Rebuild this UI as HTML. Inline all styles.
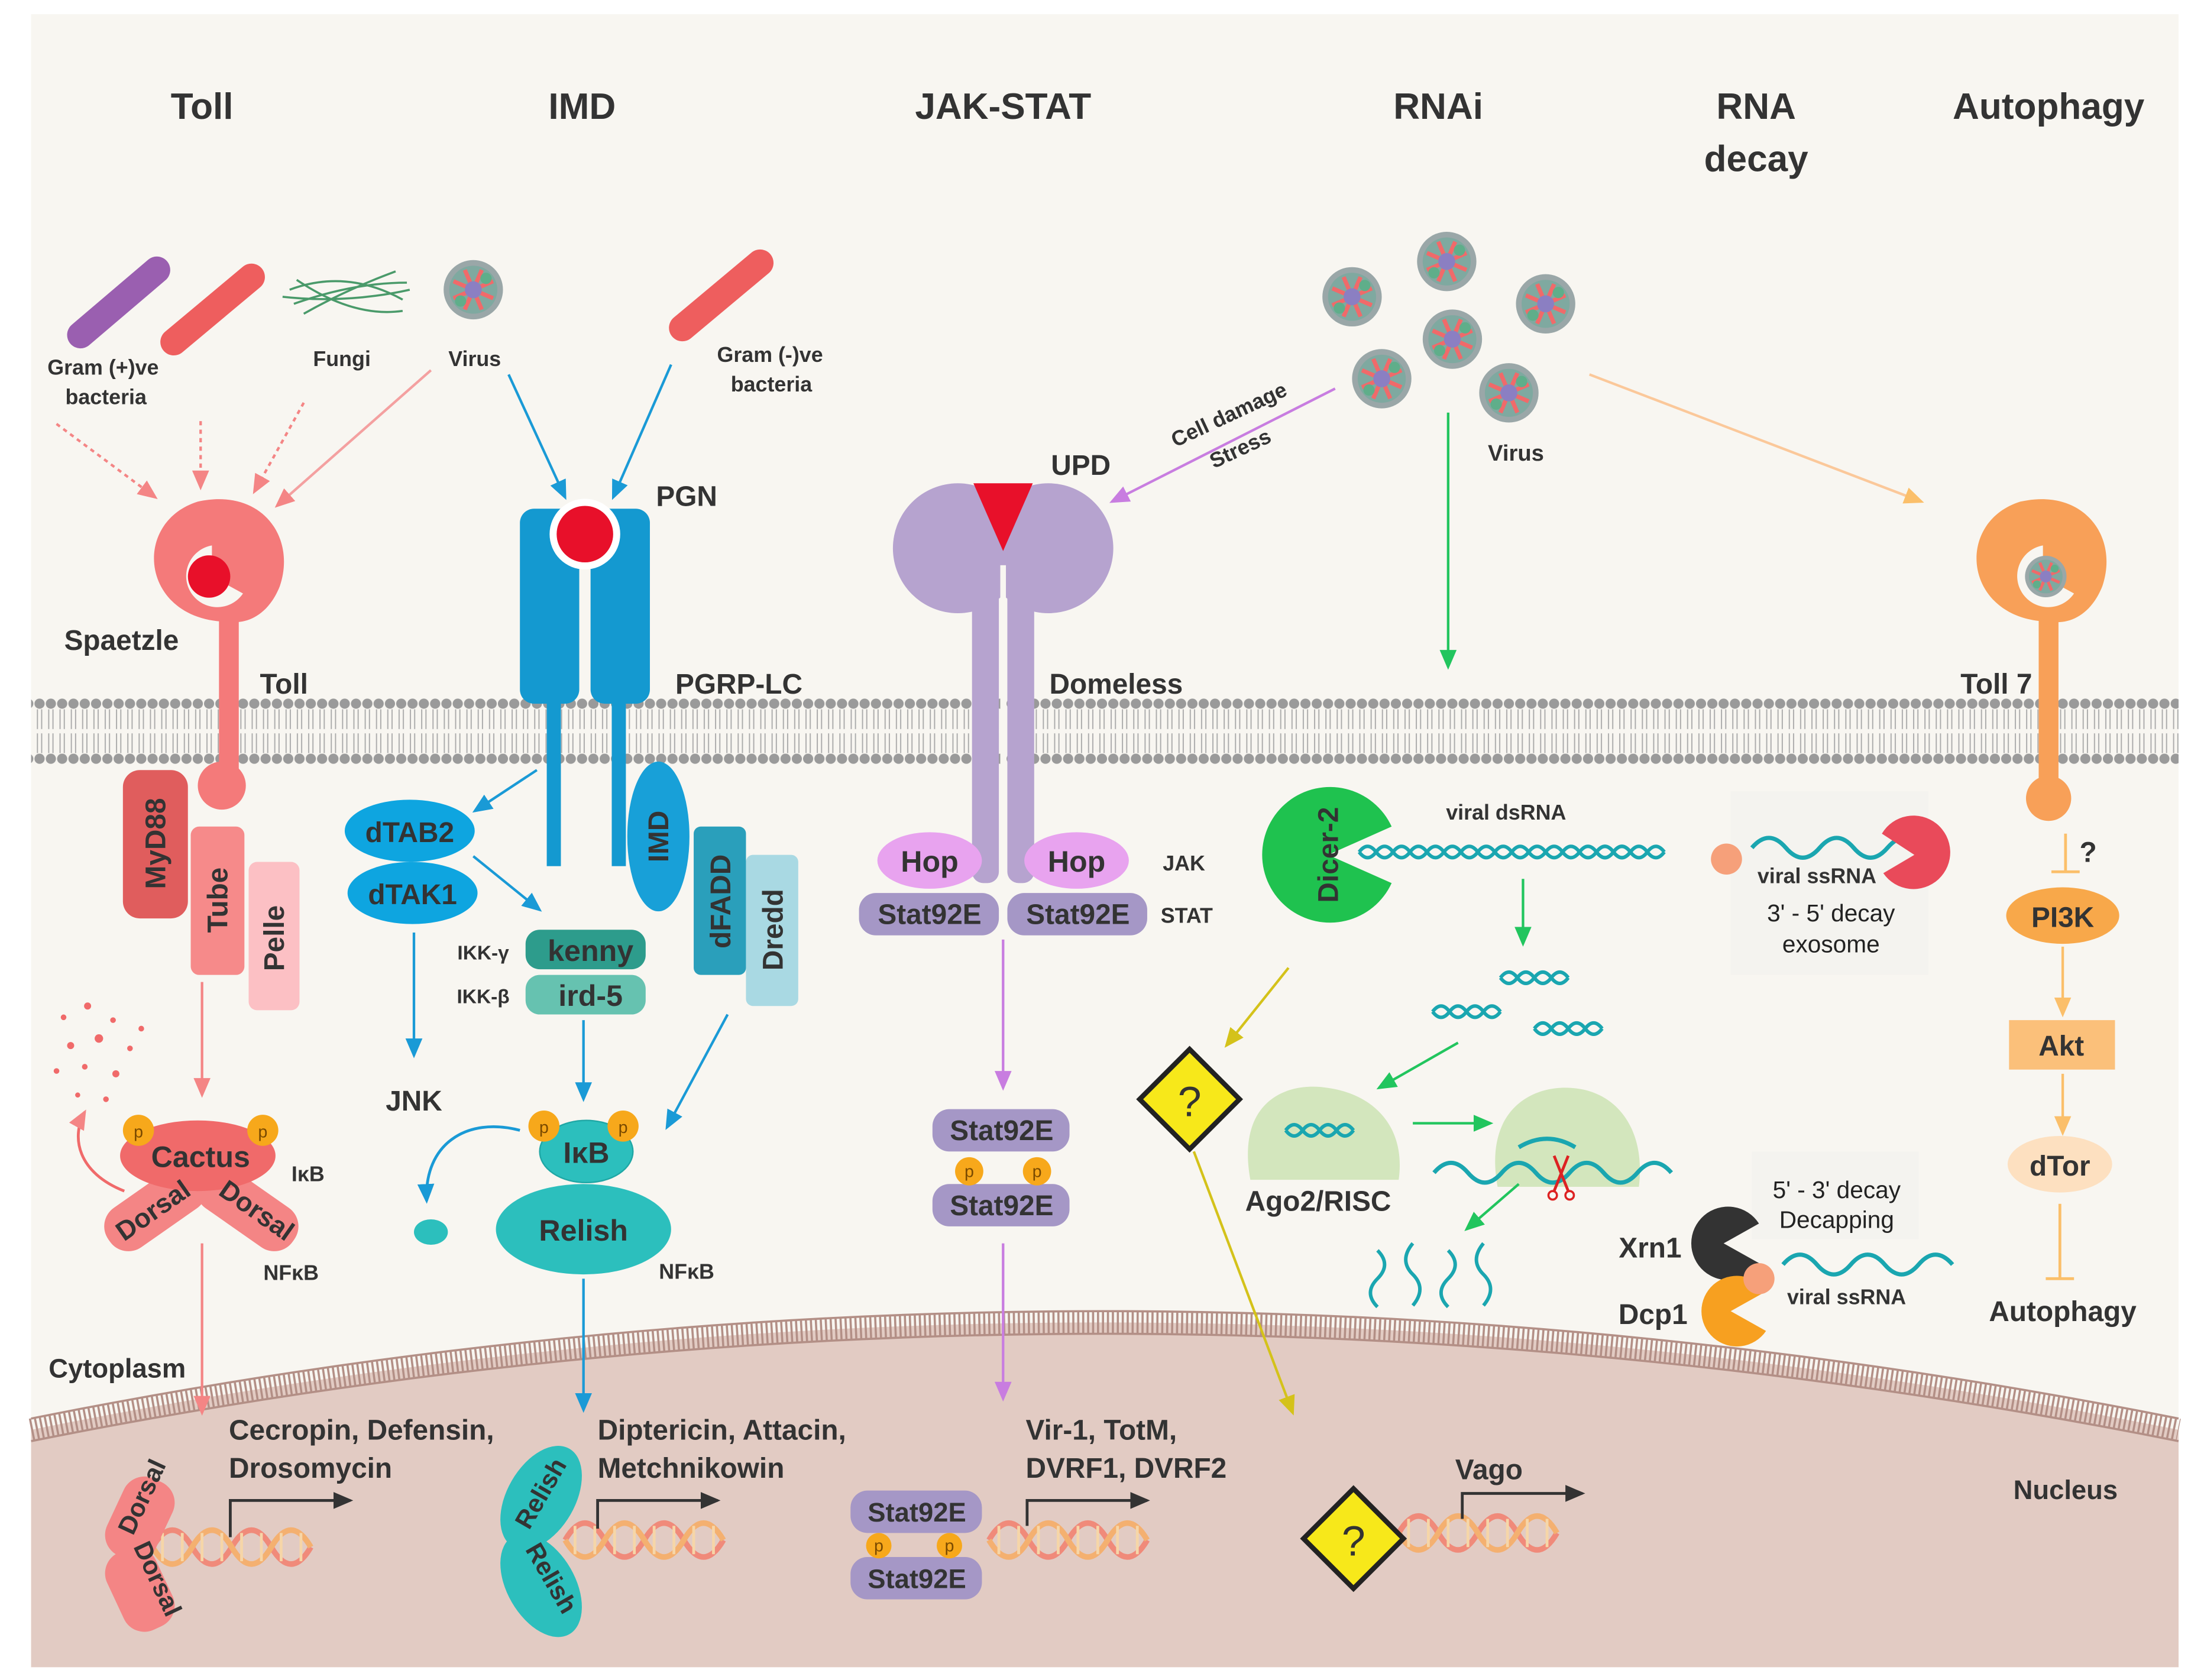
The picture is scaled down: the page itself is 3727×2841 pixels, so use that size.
<!DOCTYPE html>
<html><head><meta charset="utf-8"><style>
html,body{margin:0;padding:0;background:#fff}
svg{display:block}
text{font-family:"Liberation Sans",sans-serif;font-weight:bold;fill:#333}
.pp{font-size:12px;font-weight:normal;fill:#7a4a00}
</style></head><body>
<svg width="3727" height="2841" viewBox="0 0 1560 1189" xmlns="http://www.w3.org/2000/svg">
<defs>
<marker id="ap" markerWidth="14" markerHeight="12" refX="12" refY="6" orient="auto" markerUnits="userSpaceOnUse"><path d="M0,0 L14,6 L0,12Z" fill="#f48585"/></marker>
<marker id="abl" markerWidth="14" markerHeight="12" refX="12" refY="6" orient="auto" markerUnits="userSpaceOnUse"><path d="M0,0 L14,6 L0,12Z" fill="#1a9ad6"/></marker>
<marker id="apu" markerWidth="14" markerHeight="12" refX="12" refY="6" orient="auto" markerUnits="userSpaceOnUse"><path d="M0,0 L14,6 L0,12Z" fill="#c87de0"/></marker>
<marker id="ag" markerWidth="14" markerHeight="12" refX="12" refY="6" orient="auto" markerUnits="userSpaceOnUse"><path d="M0,0 L14,6 L0,12Z" fill="#22c55e"/></marker>
<marker id="ay" markerWidth="14" markerHeight="12" refX="12" refY="6" orient="auto" markerUnits="userSpaceOnUse"><path d="M0,0 L14,6 L0,12Z" fill="#d4c21a"/></marker>
<marker id="ao" markerWidth="14" markerHeight="12" refX="12" refY="6" orient="auto" markerUnits="userSpaceOnUse"><path d="M0,0 L14,6 L0,12Z" fill="#fbbf6a"/></marker>
<marker id="ak" markerWidth="14" markerHeight="12" refX="12" refY="6" orient="auto" markerUnits="userSpaceOnUse"><path d="M0,0 L14,6 L0,12Z" fill="#333"/></marker>
<pattern id="mem" x="0" y="494" width="8" height="48" patternUnits="userSpaceOnUse">
<circle cx="4" cy="4" r="3.6" fill="#9a9a9a"/><circle cx="4" cy="43" r="3.6" fill="#9a9a9a"/>
<line x1="2.5" y1="8" x2="2.5" y2="22" stroke="#aaa" stroke-width=".8"/><line x1="5.5" y1="8" x2="5.5" y2="22" stroke="#aaa" stroke-width=".8"/>
<line x1="2.5" y1="25" x2="2.5" y2="39" stroke="#aaa" stroke-width=".8"/><line x1="5.5" y1="25" x2="5.5" y2="39" stroke="#aaa" stroke-width=".8"/>
</pattern>
<g id="virus"><circle r="21" fill="#9aa7a8"/><circle r="17" fill="#7fa9a0"/><path d="M-14,-6 L14,6 M-6,-14 L6,14 M-14,6 L14,-6 M6,-14 L-6,14" stroke="#f06a6a" stroke-width="3"/><circle r="6" fill="#8b7fc2"/><circle cx="-9" cy="8" r="4" fill="#5fae8a"/><circle cx="9" cy="-8" r="4" fill="#5fae8a"/></g>
<g id="dna"><path d="M0,0 q14,-24 28,0 t28,0 t28,0 t28,0" fill="none" stroke="#f08a7a" stroke-width="4"/><path d="M0,0 q14,24 28,0 t28,0 t28,0 t28,0" fill="none" stroke="#f4b070" stroke-width="4"/><path d="M7,-10v20M21,-10v20M35,-10v20M49,-10v20M63,-10v20M77,-10v20M91,-10v20M105,-10v20" stroke="#f6d6a8" stroke-width="2"/></g>
<g id="helix"><path d="M0,0 q6,-8 12,0 t12,0 t12,0 t12,0" fill="none" stroke="#1aa6b0" stroke-width="2.5"/><path d="M0,0 q6,8 12,0 t12,0 t12,0 t12,0" fill="none" stroke="#1aa6b0" stroke-width="2.5"/></g>
</defs>
<rect x="0" y="0" width="1560" height="1189" fill="#fff"/>
<rect x="22" y="10" width="1520" height="1170" fill="#f8f6f1"/>
<path d="M22 1012 Q780 860 1542 1012 L1542 1180 L22 1180Z" fill="#e2cbc3"/>
<path d="M22 1012 Q780 860 1542 1012" fill="none" stroke="#b38f86" stroke-width="16" stroke-dasharray="1.5 2"/>
<path d="M22 1004 Q780 852 1542 1004" fill="none" stroke="#b38f86" stroke-width="1.5"/>
<path d="M22 1020 Q780 868 1542 1020" fill="none" stroke="#b38f86" stroke-width="1.5"/>
<rect x="22" y="494" width="1520" height="48" fill="url(#mem)"/>
<g font-size="26" text-anchor="middle">
<text x="143" y="84">Toll</text><text x="412" y="84">IMD</text><text x="710" y="84">JAK-STAT</text><text x="1018" y="84">RNAi</text><text x="1243" y="84">RNA</text><text x="1243" y="121">decay</text><text x="1450" y="84">Autophagy</text>
</g>
<line x1="57" y1="237" x2="111" y2="191" stroke="#9a5fb0" stroke-width="19" stroke-linecap="round"/>
<line x1="123" y1="242" x2="178" y2="196" stroke="#ee5e5e" stroke-width="19" stroke-linecap="round"/>
<line x1="483" y1="232" x2="538" y2="186" stroke="#ee5e5e" stroke-width="19" stroke-linecap="round"/>
<g stroke="#4a9a6a" stroke-width="1.5" fill="none"><path d="M205 205 Q245 190 285 212"/><path d="M208 215 Q250 200 288 200"/><path d="M210 198 Q250 225 285 220"/><path d="M215 222 Q245 205 280 192"/><path d="M200 210 Q245 215 290 205"/></g>
<use href="#virus" x="335" y="205"/>
<g font-size="15" text-anchor="middle">
<text x="73" y="265">Gram (+)ve</text><text x="75" y="286">bacteria</text><text x="242" y="259">Fungi</text><text x="336" y="259">Virus</text><text x="545" y="256">Gram (-)ve</text><text x="546" y="277">bacteria</text>
</g>
<g stroke="#f48585" stroke-width="1.8" stroke-dasharray="3 3" marker-end="url(#ap)"><line x1="40" y1="300" x2="110" y2="352"/><line x1="142" y1="298" x2="142" y2="345"/><line x1="215" y1="285" x2="180" y2="348"/></g>
<line x1="305" y1="262" x2="196" y2="358" stroke="#f4a0a0" stroke-width="1.8" marker-end="url(#ap)"/>
<line x1="360" y1="265" x2="400" y2="352" stroke="#1a9ad6" stroke-width="1.8" marker-end="url(#abl)"/>
<line x1="475" y1="258" x2="434" y2="352" stroke="#1a9ad6" stroke-width="1.8" marker-end="url(#abl)"/>
<!-- Toll receptor -->
<rect x="155" y="430" width="14" height="135" fill="#f47a7a"/>
<path d="M162 440 C100 440 92 370 140 355 C185 345 210 380 198 415 C190 435 175 442 162 440Z" fill="#f47a7a"/>
<path d="M150 386 A22 22 0 1 0 172 420 L150 408Z" fill="#f8f6f1"/>
<circle cx="148" cy="408" r="15" fill="#e8102a"/>
<circle cx="157" cy="556" r="17" fill="#f47a7a"/>
<text x="86" y="460" font-size="20" text-anchor="middle">Spaetzle</text>
<text x="201" y="491" font-size="20" text-anchor="middle">Toll</text>
<rect x="87" y="545" width="46" height="105" rx="12" fill="#e05d5d"/>
<rect x="135" y="585" width="38" height="105" rx="6" fill="#f68a8a"/>
<rect x="176" y="610" width="36" height="105" rx="6" fill="#fcc0c4"/>
<g font-size="20"><text transform="translate(117,597) rotate(-90)" text-anchor="middle">MyD88</text><text transform="translate(161,637) rotate(-90)" text-anchor="middle">Tube</text><text transform="translate(201,664) rotate(-90)" text-anchor="middle">Pelle</text></g>
<line x1="143" y1="695" x2="143" y2="775" stroke="#f48585" stroke-width="1.8" marker-end="url(#ap)"/>
<g fill="#f06a6a"><circle cx="45" cy="720" r="2"/><circle cx="62" cy="712" r="2.5"/><circle cx="80" cy="722" r="2"/><circle cx="50" cy="740" r="2.5"/><circle cx="70" cy="735" r="3"/><circle cx="92" cy="742" r="2"/><circle cx="40" cy="758" r="2"/><circle cx="60" cy="755" r="2"/><circle cx="82" cy="760" r="2.5"/><circle cx="100" cy="728" r="2"/><circle cx="55" cy="775" r="1.8"/><circle cx="75" cy="778" r="2"/></g>
<path d="M88 843 C55 830 50 805 60 787" fill="none" stroke="#f06a6a" stroke-width="2" marker-end="url(#ap)"/>
<rect x="70" y="838" width="80" height="34" rx="16" fill="#f48585" transform="rotate(-35 110 855)"/>
<rect x="135" y="838" width="80" height="34" rx="16" fill="#f48585" transform="rotate(35 175 855)"/>
<ellipse cx="140" cy="818" rx="55" ry="25" fill="#f06a6a"/>
<text x="142" y="826" font-size="21" text-anchor="middle">Cactus</text>
<text transform="translate(112,862) rotate(-35)" font-size="19" text-anchor="middle">Dorsal</text>
<text transform="translate(178,862) rotate(35)" font-size="19" text-anchor="middle">Dorsal</text>
<circle cx="98" cy="800" r="11" fill="#f7a81b"/><circle cx="186" cy="800" r="11" fill="#f7a81b"/>
<text x="98" y="805" class="pp" text-anchor="middle">p</text><text x="186" y="805" class="pp" text-anchor="middle">p</text>
<text x="218" y="836" font-size="15" text-anchor="middle">IκB</text><text x="206" y="906" font-size="15" text-anchor="middle">NFκB</text>
<line x1="143" y1="880" x2="143" y2="1000" stroke="#f48585" stroke-width="1.8" marker-end="url(#ap)"/>
<text x="83" y="975" font-size="19" text-anchor="middle">Cytoplasm</text>
<!-- PGRP-LC -->
<rect x="368" y="360" width="42" height="138" rx="10" fill="#1499d0"/>
<rect x="418" y="360" width="42" height="138" rx="10" fill="#1499d0"/>
<rect x="387" y="498" width="10" height="115" fill="#1499d0"/><rect x="433" y="498" width="10" height="115" fill="#1499d0"/>
<circle cx="414" cy="378" r="25" fill="#fff"/><circle cx="414" cy="378" r="20" fill="#e8102a"/>
<text x="486" y="358" font-size="20" text-anchor="middle">PGN</text>
<text x="523" y="491" font-size="20" text-anchor="middle">PGRP-LC</text>
<ellipse cx="466" cy="592" rx="22" ry="53" fill="#18a0d8"/>
<rect x="491" y="585" width="37" height="105" rx="5" fill="#2a9fbb"/>
<rect x="528" y="605" width="37" height="107" rx="5" fill="#a9d9e3"/>
<g font-size="20"><text transform="translate(473,592) rotate(-90)" text-anchor="middle">IMD</text><text transform="translate(517,638) rotate(-90)" text-anchor="middle">dFADD</text><text transform="translate(554,658) rotate(-90)" text-anchor="middle">Dredd</text></g>
<line x1="380" y1="545" x2="336" y2="574" stroke="#1a9ad6" stroke-width="1.8" marker-end="url(#abl)"/>
<ellipse cx="290" cy="588" rx="46" ry="22" fill="#0ea5e0"/><ellipse cx="292" cy="632" rx="46" ry="22" fill="#0ea5e0"/>
<text x="290" y="596" font-size="20" text-anchor="middle">dTAB2</text><text x="292" y="640" font-size="20" text-anchor="middle">dTAK1</text>
<line x1="335" y1="606" x2="382" y2="644" stroke="#1a9ad6" stroke-width="1.8" marker-end="url(#abl)"/>
<rect x="372" y="658" width="85" height="28" rx="10" fill="#2d9c8c"/><rect x="372" y="690" width="85" height="28" rx="10" fill="#66c2b0"/>
<text x="418" y="680" font-size="21" text-anchor="middle">kenny</text><text x="418" y="712" font-size="21" text-anchor="middle">ird-5</text>
<text x="342" y="679" font-size="14" text-anchor="middle">IKK-γ</text><text x="342" y="710" font-size="14" text-anchor="middle">IKK-β</text>
<line x1="293" y1="660" x2="293" y2="747" stroke="#1a9ad6" stroke-width="1.8" marker-end="url(#abl)"/>
<text x="293" y="786" font-size="20" text-anchor="middle">JNK</text>
<line x1="413" y1="722" x2="413" y2="778" stroke="#1a9ad6" stroke-width="1.8" marker-end="url(#abl)"/>
<line x1="515" y1="718" x2="472" y2="798" stroke="#1a9ad6" stroke-width="1.8" marker-end="url(#abl)"/>
<ellipse cx="413" cy="870" rx="62" ry="32" fill="#2cbfbd"/><ellipse cx="415" cy="815" rx="33" ry="22" fill="#2cbfbd" stroke="#1fa7a5"/>
<text x="413" y="878" font-size="21" text-anchor="middle">Relish</text><text x="415" y="823" font-size="21" text-anchor="middle">IκB</text>
<circle cx="385" cy="797" r="11" fill="#f7a81b"/><circle cx="441" cy="797" r="11" fill="#f7a81b"/>
<text x="385" y="802" class="pp" text-anchor="middle">p</text><text x="441" y="802" class="pp" text-anchor="middle">p</text>
<path d="M368 800 C330 790 300 810 302 850" fill="none" stroke="#1a9ad6" stroke-width="2" marker-end="url(#abl)"/>
<ellipse cx="305" cy="872" rx="12" ry="9" fill="#2cbfbd"/>
<text x="486" y="905" font-size="15" text-anchor="middle">NFκB</text>
<line x1="413" y1="905" x2="413" y2="998" stroke="#1a9ad6" stroke-width="1.8" marker-end="url(#abl)"/>
<!-- JAK-STAT -->
<circle cx="678" cy="388" r="46" fill="#b6a3cf"/><circle cx="742" cy="388" r="46" fill="#b6a3cf"/>
<rect x="688" y="380" width="19" height="245" rx="8" fill="#b6a3cf"/><rect x="713" y="380" width="19" height="245" rx="8" fill="#b6a3cf"/>
<rect x="708" y="400" width="4" height="225" fill="#f8f6f1"/>
<path d="M689 342 L731 342 L710 390Z" fill="#e8102a"/>
<text x="765" y="336" font-size="20" text-anchor="middle">UPD</text>
<text x="790" y="491" font-size="20" text-anchor="middle">Domeless</text>
<text transform="translate(872,298) rotate(-25)" font-size="15" text-anchor="middle">Cell damage</text>
<text transform="translate(880,322) rotate(-25)" font-size="15" text-anchor="middle">Stress</text>
<line x1="945" y1="275" x2="787" y2="355" stroke="#c87de0" stroke-width="1.8" marker-end="url(#apu)"/>
<ellipse cx="658" cy="609" rx="37" ry="20" fill="#e8a3ef"/><ellipse cx="762" cy="609" rx="37" ry="20" fill="#e8a3ef"/>
<text x="658" y="617" font-size="21" text-anchor="middle">Hop</text><text x="762" y="617" font-size="21" text-anchor="middle">Hop</text>
<rect x="608" y="632" width="99" height="30" rx="12" fill="#a597c6"/><rect x="713" y="632" width="99" height="30" rx="12" fill="#a597c6"/>
<text x="658" y="654" font-size="20" text-anchor="middle">Stat92E</text><text x="763" y="654" font-size="20" text-anchor="middle">Stat92E</text>
<text x="838" y="616" font-size="15" text-anchor="middle">JAK</text><text x="840" y="653" font-size="15" text-anchor="middle">STAT</text>
<line x1="710" y1="665" x2="710" y2="770" stroke="#c87de0" stroke-width="1.8" marker-end="url(#apu)"/>
<rect x="660" y="785" width="97" height="30" rx="12" fill="#a597c6"/><rect x="660" y="838" width="97" height="30" rx="12" fill="#a597c6"/>
<text x="709" y="807" font-size="20" text-anchor="middle">Stat92E</text><text x="709" y="860" font-size="20" text-anchor="middle">Stat92E</text>
<circle cx="686" cy="829" r="10" fill="#f7a81b"/><circle cx="734" cy="829" r="10" fill="#f7a81b"/>
<text x="686" y="833" class="pp" text-anchor="middle">p</text><text x="734" y="833" class="pp" text-anchor="middle">p</text>
<line x1="710" y1="880" x2="710" y2="990" stroke="#c87de0" stroke-width="1.8" marker-end="url(#apu)"/>
<!-- RNAi -->
<use href="#virus" x="957" y="210"/><use href="#virus" x="1024" y="185"/><use href="#virus" x="1094" y="215"/><use href="#virus" x="1028" y="240"/><use href="#virus" x="978" y="268"/><use href="#virus" x="1068" y="278"/>
<text x="1073" y="326" font-size="16" text-anchor="middle">Virus</text>
<line x1="1025" y1="292" x2="1025" y2="472" stroke="#22c55e" stroke-width="1.8" marker-end="url(#ag)"/>
<line x1="1125" y1="265" x2="1360" y2="355" stroke="#fbc89a" stroke-width="1.8" marker-end="url(#ao)"/>
<path d="M940 605 L985 585 A48 48 0 1 0 985 625 Z" fill="#1fc24f"/>
<text transform="translate(940,605) rotate(-90)" font-size="20" text-anchor="middle" dy="7">Dicer-2</text>
<text x="1066" y="580" font-size="15" text-anchor="middle">viral dsRNA</text>
<use href="#helix" x="962" y="603"/><use href="#helix" x="1010" y="603"/><use href="#helix" x="1058" y="603"/><use href="#helix" x="1106" y="603"/><use href="#helix" x="1130" y="603"/>
<line x1="1078" y1="622" x2="1078" y2="668" stroke="#22c55e" stroke-width="1.8" marker-end="url(#ag)"/>
<use href="#helix" x="1062" y="692"/><use href="#helix" x="1014" y="716"/><use href="#helix" x="1086" y="728"/>
<line x1="1032" y1="738" x2="976" y2="770" stroke="#22c55e" stroke-width="1.8" marker-end="url(#ag)"/>
<path d="M885 835 C875 780 910 765 940 770 C975 775 995 800 990 835Z" fill="#d3e6bd"/>
<use href="#helix" x="910" y="800"/>
<text x="933" y="857" font-size="20" text-anchor="middle">Ago2/RISC</text>
<line x1="1000" y1="795" x2="1055" y2="795" stroke="#22c55e" stroke-width="1.8" marker-end="url(#ag)"/>
<path d="M1060 840 C1050 785 1085 768 1112 770 C1145 772 1165 800 1160 840Z" fill="#d3e6bd"/>
<path d="M1015 830 q12,-14 24,0 t24,0 t24,0 t24,0 t24,0 t24,0 t24,0" fill="none" stroke="#1aa6b0" stroke-width="3"/>
<path d="M1075 812 q20 -12 40 0" fill="none" stroke="#1aa6b0" stroke-width="3"/>
<path d="M1100 818 l10 25 M1110 818 l-10 25" stroke="#d22" stroke-width="2"/><circle cx="1099" cy="846" r="3" fill="none" stroke="#d22" stroke-width="1.5"/><circle cx="1111" cy="846" r="3" fill="none" stroke="#d22" stroke-width="1.5"/>
<line x1="1075" y1="838" x2="1038" y2="870" stroke="#22c55e" stroke-width="1.8" marker-end="url(#ag)"/>
<g fill="none" stroke="#1aa6b0" stroke-width="2.5"><path d="M975 885 q10 10 0 20 t0 20"/><path d="M1000 880 q-10 12 0 22 t0 22"/><path d="M1025 885 q10 10 0 20 t0 20"/><path d="M1050 880 q-10 12 0 22 t0 22"/></g>
<line x1="912" y1="685" x2="868" y2="740" stroke="#d4c21a" stroke-width="1.8" marker-end="url(#ay)"/>
<rect x="817" y="753" width="50" height="50" fill="#f7e81a" stroke="#222" stroke-width="3.5" transform="rotate(45 842 778)"/>
<text x="842" y="790" font-size="30" text-anchor="middle" style="font-weight:normal">?</text>
<line x1="845" y1="815" x2="915" y2="1000" stroke="#d4c21a" stroke-width="1.8" marker-end="url(#ay)"/>
<!-- RNA decay -->
<rect x="1225" y="560" width="140" height="130" fill="#f4f3ef"/>
<path d="M1240 600 q12,-14 24,0 t24,0 t24,0 t24,0 t24,0" fill="none" stroke="#1aa6b0" stroke-width="3"/>
<path d="M1355 605 L1332 590 A26 26 0 1 1 1333 618 Z" fill="#e94a5a"/>
<circle cx="1222" cy="608" r="11" fill="#f6a07a"/>
<text x="1286" y="625" font-size="15" text-anchor="middle">viral ssRNA</text>
<text x="1296" y="652" font-size="17" text-anchor="middle" style="font-weight:normal;fill:#222">3' - 5' decay</text>
<text x="1296" y="674" font-size="17" text-anchor="middle" style="font-weight:normal;fill:#222">exosome</text>
<rect x="1240" y="815" width="118" height="62" fill="#f4f3ef"/>
<text x="1300" y="848" font-size="17" text-anchor="middle" style="font-weight:normal;fill:#222">5' - 3' decay</text>
<text x="1300" y="869" font-size="17" text-anchor="middle" style="font-weight:normal;fill:#222">Decapping</text>
<path d="M1220 880 L1245 866 A26 26 0 1 0 1245 894 Z" fill="#333"/>
<path d="M1225 928 L1250 914 A25 25 0 1 0 1250 942 Z" fill="#f7a020"/>
<circle cx="1245" cy="905" r="11" fill="#f6a07a"/>
<path d="M1262 895 q12,-14 24,0 t24,0 t24,0 t24,0 t24,0" fill="none" stroke="#1aa6b0" stroke-width="3"/>
<text x="1168" y="890" font-size="20" text-anchor="middle">Xrn1</text><text x="1170" y="937" font-size="20" text-anchor="middle">Dcp1</text>
<text x="1307" y="923" font-size="15" text-anchor="middle">viral ssRNA</text>
<!-- Autophagy -->
<rect x="1443" y="430" width="14" height="140" fill="#f8a058"/>
<path d="M1452 440 C1390 440 1382 370 1430 355 C1475 345 1500 380 1488 415 C1480 435 1465 442 1452 440Z" fill="#f8a058"/>
<path d="M1446 386 A22 22 0 1 0 1468 420 L1446 408Z" fill="#f8f6f1"/>
<use href="#virus" transform="translate(1448,408) scale(.7)"/>
<circle cx="1450" cy="565" r="16" fill="#f8a058"/>
<text x="1413" y="491" font-size="20" text-anchor="middle">Toll 7</text>
<path d="M1462 590 V617 M1452 617 H1472" stroke="#fbbf6a" stroke-width="2"/>
<text x="1478" y="610" font-size="20" text-anchor="middle">?</text>
<ellipse cx="1460" cy="648" rx="40" ry="20" fill="#f8a84a"/><text x="1460" y="656" font-size="20" text-anchor="middle">PI3K</text>
<line x1="1460" y1="670" x2="1460" y2="718" stroke="#fbbf6a" stroke-width="1.8" marker-end="url(#ao)"/>
<rect x="1422" y="722" width="75" height="35" fill="#fbc07a"/><text x="1459" y="747" font-size="20" text-anchor="middle">Akt</text>
<line x1="1460" y1="760" x2="1460" y2="802" stroke="#fbbf6a" stroke-width="1.8" marker-end="url(#ao)"/>
<ellipse cx="1458" cy="824" rx="37" ry="20" fill="#fde0c0"/><text x="1458" y="832" font-size="20" text-anchor="middle">dTor</text>
<path d="M1458 852 V905 M1448 905 H1468" stroke="#fbbf6a" stroke-width="2"/>
<text x="1460" y="935" font-size="20" text-anchor="middle">Autophagy</text>
<text x="1462" y="1061" font-size="19" text-anchor="middle">Nucleus</text>
<!-- nucleus genes -->
<use href="#dna" x="108" y="1095"/><use href="#dna" x="700" y="1090"/><use href="#dna" x="990" y="1085"/><use href="#dna" x="400" y="1090"/>
<g stroke="#333" stroke-width="2" fill="none" marker-end="url(#ak)"><path d="M163 1088 V1062 H248"/><path d="M423 1082 V1062 H508"/><path d="M727 1080 V1062 H812"/><path d="M1035 1075 V1057 H1120"/></g>
<rect x="80" y="1045" width="38" height="60" rx="16" fill="#f48585" transform="rotate(25 99 1075)"/>
<rect x="80" y="1095" width="38" height="60" rx="16" fill="#f48585" transform="rotate(-25 99 1125)"/>
<text transform="translate(106,1062) rotate(-65)" font-size="18" text-anchor="middle">Dorsal</text>
<text transform="translate(106,1120) rotate(65)" font-size="18" text-anchor="middle">Dorsal</text>
<ellipse cx="383" cy="1060" rx="24" ry="40" fill="#2cbfbd" transform="rotate(30 383 1060)"/>
<ellipse cx="383" cy="1122" rx="24" ry="40" fill="#2cbfbd" transform="rotate(-30 383 1122)"/>
<text transform="translate(388,1060) rotate(-60)" font-size="18" text-anchor="middle">Relish</text>
<text transform="translate(385,1120) rotate(60)" font-size="18" text-anchor="middle">Relish</text>
<rect x="602" y="1055" width="93" height="30" rx="12" fill="#a597c6"/><rect x="602" y="1102" width="93" height="30" rx="12" fill="#a597c6"/>
<text x="649" y="1077" font-size="19" text-anchor="middle">Stat92E</text><text x="649" y="1124" font-size="19" text-anchor="middle">Stat92E</text>
<circle cx="622" cy="1094" r="9" fill="#f7a81b"/><circle cx="672" cy="1094" r="9" fill="#f7a81b"/>
<text x="622" y="1098" class="pp" text-anchor="middle">p</text><text x="672" y="1098" class="pp" text-anchor="middle">p</text>
<rect x="933" y="1064" width="50" height="50" fill="#f7e81a" stroke="#222" stroke-width="3.5" transform="rotate(45 958 1089)"/>
<text x="958" y="1101" font-size="30" text-anchor="middle" style="font-weight:normal">?</text>
<g font-size="20"><text x="162" y="1019">Cecropin, Defensin,</text><text x="162" y="1046">Drosomycin</text><text x="423" y="1019">Diptericin, Attacin,</text><text x="423" y="1046">Metchnikowin</text><text x="726" y="1019">Vir-1, TotM,</text><text x="726" y="1046">DVRF1, DVRF2</text><text x="1030" y="1047">Vago</text></g>
</svg>
</body></html>
